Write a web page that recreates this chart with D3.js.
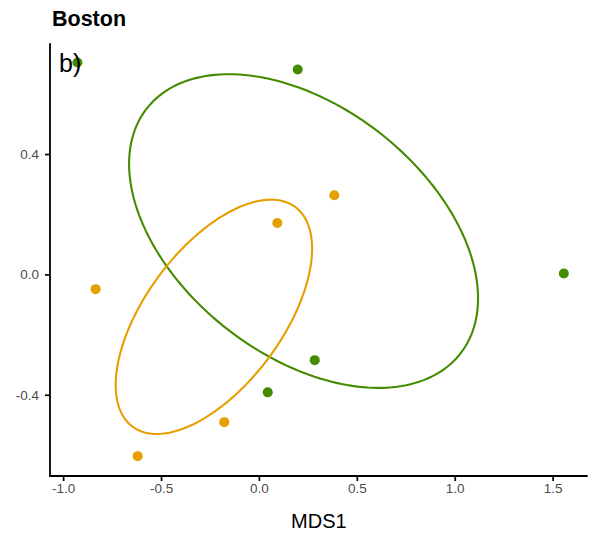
<!DOCTYPE html>
<html>
<head>
<meta charset="utf-8">
<script src="https://cdn.jsdelivr.net/npm/d3@7"></script>
<style>
  html, body { margin: 0; padding: 0; background: #fff; }
  svg { display: block; font-family: "Liberation Sans", Arial, Helvetica, sans-serif; }
</style>
</head>
<body>
<svg id="chart" width="596" height="533"></svg>
<script>
// MDS ordination scores for the Boston sites
const siteGroup = ["A", "A", "A", "A", "A", "B", "B", "B", "B", "B"];
const mds1 = [-0.927, 0.198, 1.557, 0.285, 0.045, -0.834, 0.385, 0.094, -0.177, -0.619];
const mds2 = [0.704, 0.681, 0.003, -0.285, -0.392, -0.049, 0.263, 0.171, -0.491, -0.604];

// Confidence ellipses per group: centre and covariance (sxx, syy, sxy)
const ellipseGroup = ["A", "B"];
const ellipseCx = [0.228, -0.230];
const ellipseCy = [0.144, -0.141];
const ellipseSxx = [0.794, 0.2515];
const ellipseSyy = [0.2717, 0.1516];
const ellipseSxy = [-0.199, 0.1136];

const xTicks = [-1.0, -0.5, 0.0, 0.5, 1.0, 1.5];
const yTicks = [-0.4, 0.0, 0.4];
const xDomain = [-1.067, 1.679];
const yDomain = [-0.670, 0.768];

const groupColor = { A: "#458B00", B: "#E69F00" };

const svg = d3.select("#chart");
const panel = { left: 50, right: 587.7, top: 43.3, bottom: 476 };

const x = d3.scaleLinear().domain(xDomain).range([panel.left, panel.right]);
const y = d3.scaleLinear().domain(yDomain).range([panel.bottom, panel.top]);

const fmt = v => {
  const s = d3.format(".1f")(Math.abs(v));
  return (v < 0 ? "-" : "") + s;
};

// Ellipses from the covariance via its Cholesky factor
const line = d3.line().x(d => x(d[0])).y(d => y(d[1])).curve(d3.curveLinearClosed);
ellipseGroup.forEach((g, i) => {
  const l11 = Math.sqrt(ellipseSxx[i]);
  const l21 = ellipseSxy[i] / l11;
  const l22 = Math.sqrt(ellipseSyy[i] - l21 * l21);
  const pts = d3.range(0, 200).map(k => {
    const t = (k / 200) * 2 * Math.PI;
    const c = Math.cos(t), s = Math.sin(t);
    return [ellipseCx[i] + l11 * c, ellipseCy[i] + l21 * c + l22 * s];
  });
  svg.append("path")
    .attr("d", line(pts))
    .attr("fill", "none")
    .attr("stroke", groupColor[g])
    .attr("stroke-width", 2.1);
});

// Points
svg.append("g").selectAll("circle")
  .data(mds1.map((v, i) => ({ x: v, y: mds2[i], g: siteGroup[i] })))
  .join("circle")
  .attr("cx", d => x(d.x))
  .attr("cy", d => y(d.y))
  .attr("r", 5)
  .attr("fill", d => groupColor[d.g]);

// Axes
const xAxis = svg.append("g")
  .attr("transform", `translate(0,${panel.bottom})`)
  .call(d3.axisBottom(x).tickValues(xTicks).tickFormat(fmt).tickSize(5).tickPadding(2.5));
const yAxis = svg.append("g")
  .attr("transform", `translate(${panel.left},0)`)
  .call(d3.axisLeft(y).tickValues(yTicks).tickFormat(fmt).tickSize(5).tickPadding(6));

[xAxis, yAxis].forEach(a => {
  a.select(".domain").remove();
  a.selectAll(".tick line").attr("stroke", "#000").attr("stroke-width", 1.7);
  a.selectAll(".tick text").attr("fill", "#4d4d4d").attr("font-size", 13.5)
    .attr("font-family", "Liberation Sans, Arial, sans-serif");
});

svg.append("line")
  .attr("x1", panel.left - 0.9).attr("x2", panel.right)
  .attr("y1", panel.bottom).attr("y2", panel.bottom)
  .attr("stroke", "#000").attr("stroke-width", 1.8);
svg.append("line")
  .attr("x1", panel.left).attr("x2", panel.left)
  .attr("y1", panel.top).attr("y2", panel.bottom + 0.9)
  .attr("stroke", "#000").attr("stroke-width", 1.8);

// Titles and panel tag
svg.append("text")
  .attr("x", 52).attr("y", 25.5)
  .attr("font-size", 21.5).attr("font-weight", "bold")
  .text("Boston");

svg.append("text")
  .attr("x", (panel.left + panel.right) / 2).attr("y", 528)
  .attr("text-anchor", "middle")
  .attr("font-size", 20)
  .text("MDS1");

svg.append("text")
  .attr("x", 59).attr("y", 71.5)
  .attr("font-size", 25)
  .text("b)");
</script>
</body>
</html>
